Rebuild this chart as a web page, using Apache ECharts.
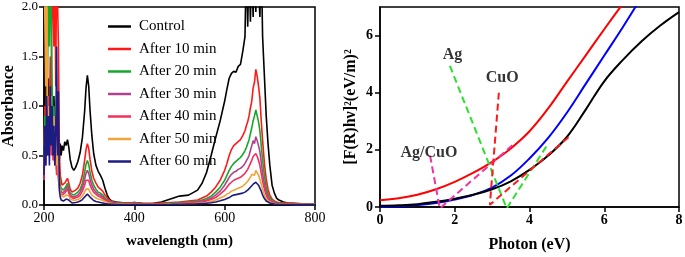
<!DOCTYPE html>
<html><head><meta charset="utf-8">
<script src="https://cdn.jsdelivr.net/npm/echarts@6/dist/echarts.min.js"></script>
<style>html,body{margin:0;padding:0;background:#fff}#c{width:685px;height:257px}</style>
</head><body><div id="c"></div>
<script>
// ---------- Left panel: UV-Vis absorbance spectra ----------
const wavelength = [200,202,204,206,208,210,212,214,216,218,
 220,222,224,226,228,230,232,234,236,238,
 240,243,246,249,252,255,258,262,266,270,
 275,280,285,290,293,296,299,302,306,310,
 315,320,325,330,335,340,345,350,360,370,
 380,390,400,420,440,460,480,500,520,540,
 550,560,570,580,590,600,605,610,615,620,
 625,630,635,640,645,648,651,654,657,660,
 663,666,669,672,675,678,681,684,688,692,
 696,700,705,710,715,720,730,740,760,780,800];

const control = [0.9,1.2,0.8,1.3,1.0,1.28,0.9,1.1,0.7,1.0,
 0.8,1.1,0.7,0.9,0.6,0.8,0.55,0.45,0.62,0.5,
 0.6,0.55,0.64,0.6,0.66,0.58,0.46,0.38,0.35,0.38,
 0.44,0.53,0.68,0.95,1.18,1.31,1.2,0.95,0.7,0.52,
 0.4,0.34,0.3,0.25,0.17,0.1,0.06,0.04,0.03,0.025,
 0.02,0.02,0.025,0.015,0.015,0.03,0.06,0.09,0.1,0.15,
 0.22,0.33,0.5,0.68,0.85,1.05,1.17,1.28,1.33,1.35,
 1.34,1.4,1.42,1.55,1.7,2.5,1.8,2.5,1.85,2.5,
 1.9,2.5,1.95,2.5,2.5,1.9,2.5,1.7,1.3,0.9,
 0.62,0.4,0.2,0.12,0.07,0.05,0.03,0.02,0.015,0.01,0.01];

const after10 = [0.6,1.0,0.7,1.3,0.8,1.1,0.9,1.5,1.1,2.5,
 2.5,1.6,2.5,1.2,2.5,2.5,1.6,0.5,0.3,0.25,
 0.2,0.2,0.22,0.24,0.27,0.22,0.16,0.13,0.13,0.15,
 0.17,0.22,0.3,0.45,0.56,0.62,0.57,0.46,0.34,0.27,
 0.22,0.18,0.16,0.14,0.1,0.07,0.05,0.035,0.025,0.02,
 0.02,0.02,0.025,0.015,0.015,0.02,0.025,0.03,0.04,0.05,
 0.07,0.09,0.13,0.18,0.25,0.35,0.42,0.5,0.56,0.6,
 0.62,0.64,0.66,0.7,0.75,0.8,0.84,0.9,0.98,1.05,
 1.18,1.24,1.37,1.3,1.2,1.08,0.85,0.65,0.42,0.26,
 0.16,0.1,0.06,0.04,0.03,0.025,0.02,0.02,0.015,0.01,0.01];

const after20 = [0.4,0.9,0.6,1.0,1.3,2.5,1.6,2.5,2.5,1.2,
 0.8,1.0,0.6,0.9,0.5,0.8,0.4,0.3,0.2,0.17,
 0.15,0.15,0.17,0.19,0.22,0.17,0.12,0.1,0.1,0.11,
 0.13,0.16,0.22,0.33,0.41,0.45,0.41,0.33,0.25,0.2,
 0.16,0.13,0.12,0.1,0.07,0.05,0.04,0.03,0.02,0.02,
 0.015,0.015,0.02,0.012,0.012,0.015,0.02,0.025,0.03,0.04,
 0.05,0.065,0.09,0.13,0.18,0.25,0.3,0.35,0.39,0.42,
 0.44,0.46,0.48,0.51,0.55,0.58,0.62,0.66,0.72,0.78,
 0.85,0.9,0.96,0.9,0.84,0.75,0.6,0.45,0.3,0.18,
 0.11,0.07,0.045,0.03,0.025,0.02,0.015,0.015,0.012,0.01,0.01];

const after30 = [0.3,0.7,0.5,0.8,0.6,0.9,0.7,1.0,0.6,0.8,
 0.5,0.7,0.45,0.6,0.35,0.5,0.3,0.22,0.16,0.14,
 0.12,0.12,0.14,0.16,0.19,0.14,0.1,0.085,0.08,0.09,
 0.1,0.13,0.18,0.26,0.32,0.35,0.32,0.26,0.2,0.16,
 0.13,0.11,0.1,0.08,0.06,0.045,0.035,0.025,0.02,0.015,
 0.015,0.015,0.02,0.01,0.01,0.012,0.015,0.02,0.025,0.032,
 0.04,0.05,0.07,0.1,0.14,0.2,0.24,0.28,0.31,0.33,
 0.34,0.36,0.37,0.39,0.42,0.44,0.47,0.5,0.55,0.6,
 0.65,0.62,0.69,0.65,0.6,0.54,0.43,0.32,0.21,0.13,
 0.08,0.05,0.035,0.025,0.02,0.015,0.012,0.012,0.01,0.008,0.008];

const after40 = [0.25,0.6,0.4,0.7,0.5,0.8,0.6,0.9,0.5,0.7,
 0.45,0.6,0.4,0.5,0.3,0.45,0.25,0.18,0.13,0.11,
 0.1,0.1,0.12,0.14,0.16,0.12,0.085,0.07,0.065,0.07,
 0.08,0.1,0.14,0.2,0.25,0.27,0.25,0.2,0.16,0.13,
 0.11,0.09,0.08,0.065,0.05,0.035,0.03,0.02,0.015,0.012,
 0.012,0.012,0.015,0.01,0.01,0.01,0.012,0.015,0.02,0.025,
 0.03,0.04,0.055,0.075,0.11,0.15,0.18,0.21,0.23,0.25,
 0.26,0.27,0.28,0.3,0.32,0.34,0.36,0.39,0.42,0.45,
 0.49,0.47,0.52,0.49,0.45,0.4,0.32,0.24,0.16,0.1,
 0.06,0.04,0.03,0.02,0.015,0.012,0.01,0.01,0.008,0.008,0.008];

const after50 = [2.5,2.5,1.2,2.5,0.8,1.0,0.6,0.95,0.7,0.85,
 0.6,0.9,0.5,0.8,0.4,0.55,0.3,0.2,0.14,0.1,
 0.08,0.08,0.09,0.1,0.12,0.09,0.06,0.05,0.045,0.05,
 0.055,0.07,0.09,0.13,0.16,0.18,0.16,0.13,0.1,0.085,
 0.07,0.06,0.055,0.045,0.035,0.025,0.02,0.015,0.012,0.01,
 0.01,0.01,0.012,0.008,0.008,0.008,0.01,0.012,0.015,0.018,
 0.02,0.025,0.035,0.05,0.07,0.09,0.11,0.12,0.14,0.15,
 0.16,0.17,0.18,0.19,0.21,0.23,0.24,0.26,0.28,0.31,
 0.33,0.3,0.35,0.33,0.3,0.26,0.21,0.16,0.1,0.065,
 0.04,0.03,0.02,0.015,0.012,0.01,0.008,0.008,0.006,0.006,0.006];

const after60 = [0.3,0.8,0.4,1.1,0.5,0.9,0.4,1.2,0.6,1.0,
 0.5,0.8,0.4,0.7,1.6,0.5,1.15,0.15,0.08,0.05,
 0.04,0.04,0.05,0.06,0.07,0.05,0.03,0.02,0.02,0.025,
 0.03,0.04,0.055,0.08,0.1,0.11,0.1,0.08,0.06,0.045,
 0.035,0.03,0.025,0.02,0.015,0.012,0.01,0.008,0.006,0.005,
 0.005,0.005,0.006,0.005,0.005,0.005,0.006,0.008,0.01,0.012,
 0.014,0.017,0.022,0.03,0.042,0.055,0.065,0.075,0.09,0.1,
 0.105,0.11,0.115,0.12,0.13,0.14,0.15,0.165,0.18,0.2,
 0.21,0.22,0.23,0.22,0.2,0.17,0.14,0.1,0.065,0.04,
 0.03,0.02,0.015,0.01,0.008,0.006,0.005,0.005,0.004,0.004,0.004];

const spectraNames = ['Control','After 10 min','After 20 min','After 30 min','After 40 min','After 50 min','After 60 min'];
const spectraValues = [control, after10, after20, after30, after40, after50, after60];
const spectraColors = ['#000000','#ff1a1a','#16a82a','#b0428c','#f2305c','#f0a43a','#1c1c82'];

// ---------- Right panel: Tauc plots ----------
const photonEnergy = [0,0.5,1,1.5,2,2.5,3,3.5,4,4.5,5,5.5,6,6.5,7,7.5,8];
const agcuoCurve = [0.24,0.31,0.43,0.62,0.88,1.2,1.58,2.05,2.65,3.45,4.38,5.3,6.22,7.12,8.0,8.9,9.8];
const agCurve    = [0.01,0.03,0.07,0.14,0.26,0.43,0.68,1.1,1.7,2.42,3.3,4.3,5.3,6.3,7.35,8.4,9.4];
const cuoCurve   = [0.04,0.06,0.1,0.18,0.29,0.43,0.62,0.9,1.3,1.8,2.45,3.4,4.4,5.15,5.8,6.35,6.82];

const tangentAgCuO = [[1.34,1.8],[1.6,-0.05],[3.56,2.18]];
const tangentAg    = [[1.87,4.94],[3.39,-0.05],[4.45,2.12]];
const tangentCuO   = [[3.18,4.0],[2.94,0.08],[5.12,2.53]];

const annotations = [
  {name:'Ag', value:[1.94,5.32]},
  {name:'CuO', value:[3.27,4.51]},
  {name:'Ag/CuO', value:[1.31,1.88]}
];

const FONT = '"Liberation Serif","Times New Roman",serif';
const axisLineStyle = {show:true, lineStyle:{color:'#000', width:1.5}};
const axisTickStyle = {show:true, inside:false, length:5, lineStyle:{color:'#000', width:1.5}};

const series = [];
spectraNames.forEach((n,k)=>{
  series.push({
    name:n, type:'line', xAxisIndex:0, yAxisIndex:0,
    data: wavelength.map((w,i)=>[w, spectraValues[k][i]]),
    showSymbol:false, symbol:'none', clip:true,
    lineStyle:{color:spectraColors[k], width:1.6},
    itemStyle:{color:spectraColors[k]},
    z: 2 + k
  });
});
const curveDefs = [[agcuoCurve,'#ff0000'],[agCurve,'#0000ff'],[cuoCurve,'#000000']];
curveDefs.forEach(([arr,col])=>{
  series.push({
    type:'line', xAxisIndex:1, yAxisIndex:1, smooth:0.4,
    data: photonEnergy.map((e,i)=>[e, arr[i]]),
    showSymbol:false, symbol:'none', clip:true,
    lineStyle:{color:col, width:2}
  });
});
const tangentDefs = [[tangentAgCuO,'#f0339c'],[tangentAg,'#2ee02e'],[tangentCuO,'#ff1a1a']];
tangentDefs.forEach(([pts,col])=>{
  series.push({
    type:'line', xAxisIndex:1, yAxisIndex:1,
    data: pts, showSymbol:false, symbol:'none', clip:true,
    lineStyle:{color:col, width:2, type:[7,4]}, z:5
  });
});
series.push({
  type:'scatter', xAxisIndex:1, yAxisIndex:1, data: annotations,
  symbolSize:1, itemStyle:{color:'rgba(0,0,0,0)'},
  label:{show:true, position:'inside', formatter:p=>p.name,
    fontFamily:FONT, fontWeight:'bold', fontSize:16, color:'#000'}, z:6
});

const chart = echarts.init(document.getElementById('c'), null, {renderer:'canvas'});
chart.setOption({
  animation:false,
  backgroundColor:'#fff',
  grid:[
    {left:44, top:7, width:271, height:198, show:true, borderColor:'#000', borderWidth:1.5, backgroundColor:'transparent', outerBoundsMode:'none'},
    {left:380, top:7, width:299, height:200, show:true, borderColor:'#000', borderWidth:1.5, backgroundColor:'transparent', outerBoundsMode:'none'}
  ],
  legend:{
    orient:'vertical', left:103, top:14, icon:'rect', itemWidth:23, itemHeight:2.5, itemGap:7.5,
    textStyle:{fontFamily:FONT, fontSize:15, color:'#000', lineHeight:15, padding:[0,0,0,3]},
    data: spectraNames
  },
  xAxis:[
    {gridIndex:0, type:'value', min:200, max:800, interval:200,
     axisLine:axisLineStyle, axisTick:axisTickStyle, splitLine:{show:false},
     axisLabel:{color:'#000', fontFamily:FONT, fontSize:14, margin:6},
     name:'wavelength (nm)', nameLocation:'middle', nameGap:29,
     nameTextStyle:{fontFamily:FONT, fontWeight:'bold', fontSize:15, color:'#000'}},
    {gridIndex:1, type:'value', min:0, max:8, interval:2,
     axisLine:axisLineStyle, axisTick:axisTickStyle, splitLine:{show:false},
     axisLabel:{color:'#000', fontFamily:FONT, fontSize:14, fontWeight:'bold', margin:6},
     name:'Photon (eV)', nameLocation:'middle', nameGap:30,
     nameTextStyle:{fontFamily:FONT, fontWeight:'bold', fontSize:16, color:'#000'}}
  ],
  yAxis:[
    {gridIndex:0, type:'value', min:0, max:2, interval:0.5,
     axisLine:axisLineStyle, axisTick:axisTickStyle, splitLine:{show:false},
     axisLabel:{color:'#000', fontFamily:FONT, fontSize:13, margin:6, formatter:v=>v.toFixed(1)},
     name:'Absorbance', nameLocation:'middle', nameGap:27, nameRotate:90,
     nameTextStyle:{fontFamily:FONT, fontWeight:'bold', fontSize:16, color:'#000'}},
    {gridIndex:1, type:'value', min:0, max:7, interval:2,
     axisLine:axisLineStyle, axisTick:axisTickStyle, splitLine:{show:false},
     axisLabel:{color:'#000', fontFamily:FONT, fontSize:14, fontWeight:'bold', margin:7, showMaxLabel:false},
     name:'[F(R)hν]²(eV/m)²', nameLocation:'middle', nameGap:21, nameRotate:90,
     nameTextStyle:{fontFamily:FONT, fontWeight:'bold', fontSize:16, color:'#000'}}
  ],
  series: series
});
</script></body></html>
